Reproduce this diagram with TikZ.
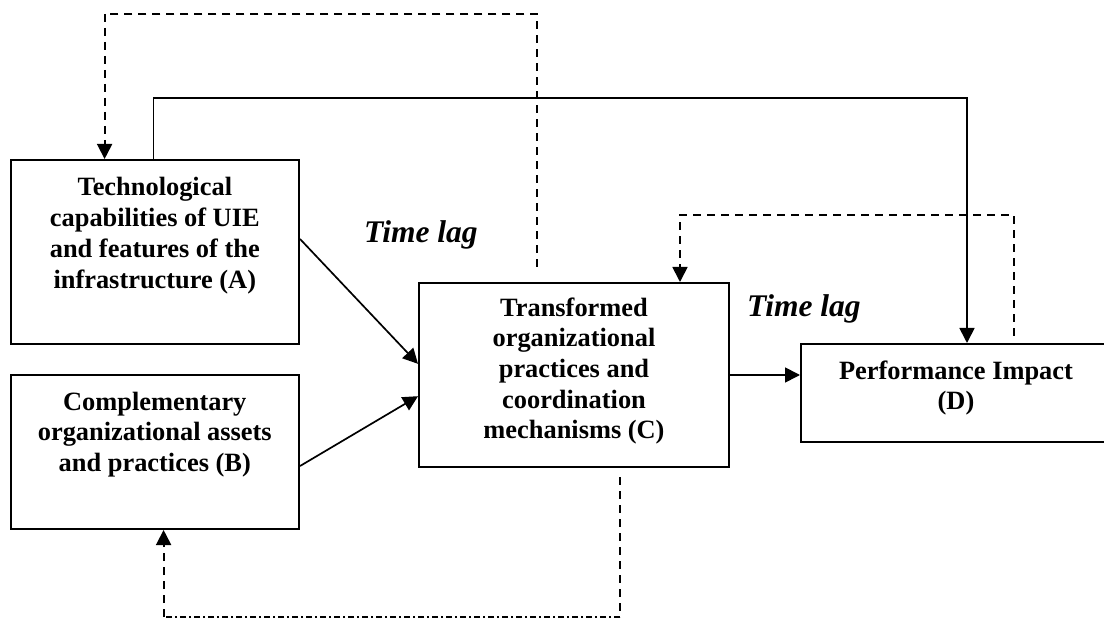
\documentclass[tikz,border=0pt]{standalone}
\usepackage{fontspec}
\setmainfont{Liberation Serif}
\usetikzlibrary{arrows.meta,calc}
\newcommand\bxt[4]{\parbox[c][#1][t]{#2}{\centering\rule{0pt}{#3}#4\par}}
\begin{document}
\begin{tikzpicture}[x=1pt,y=-1pt,
  box/.style={draw, line width=2pt, inner sep=0pt, anchor=north west,
    font=\fontsize{26.4pt}{30.7pt}\selectfont\bfseries},
  lag/.style={anchor=base west, inner sep=0pt,
    font=\fontsize{31.5pt}{36pt}\selectfont\bfseries\itshape},
  tip/.style={-{Triangle[length=15pt,width=15pt]}},
  conn/.style={line width=1.7pt, tip},
  dsh/.style={line width=1.8pt, dash pattern=on 8pt off 6pt},
  dshdot/.style={line width=1.8pt, dash pattern=on 6pt off 3pt on 2pt off 3pt}
]
\clip (0,0) rectangle (1104,620);

% boxes
\node[box] (A) at (9.6,159)
  {\bxt{184pt}{288.4pt}{36pt}{Technological\\capabilities of UIE\\and features of the\\infrastructure (A)}};
\node[box] (B) at (9.6,374)
  {\bxt{154pt}{288.4pt}{35pt}{Complementary\\organizational assets\\and practices (B)}};
\node[box] (C) at (418,282)
  {\bxt{184pt}{310pt}{33pt}{Transformed\\organizational\\practices and\\coordination\\mechanisms (C)}};
\node[box] (D) at (800,343)
  {\bxt{98pt}{310pt}{35pt}{Performance Impact\\(D)}};

% labels
\node[lag] (L1) at (364,243) {Time lag};
\node[lag] (L2) at (747,317) {Time lag};

% solid connectors
\draw[conn] ($(A.north east)!0.43!(A.south east)$) -- ($(C.north west)!0.44!(C.south west)$);
\draw[conn] ($(B.north east)!0.59!(B.south east)$) -- ($(C.north west)!0.614!(C.south west)$);
\draw[conn] (C.east) -- (C.east -| D.west);

\coordinate (s1) at (153.6,97.7);
\coordinate (s2) at (967,97.7);
\draw[conn] (A.north -| s1) -- (s1) -- (s2) -- (D.north -| s2);

% dashed feedback C -> A
\coordinate (f1) at (537,267);
\coordinate (f2) at (537,13.7);
\coordinate (f3) at (104.6,13.7);
\draw[dsh, tip] (f1) -- (f2) -- (f3) -- (A.north -| f3);

% dashed feedback D -> C
\coordinate (g1) at (1013.6,336);
\coordinate (g2) at (1013.6,215);
\coordinate (g3) at (680,215);
\draw[dsh, tip] (g1) -- (g2) -- (g3) -- (C.north -| g3);

% dashed feedback C -> B
\coordinate (h1) at (620,477);
\coordinate (h2) at (620,617);
\coordinate (h3) at (163.6,617);
\draw[dsh] (h1) -- (h2);
\draw[dshdot] (h2) -- (h3);
\draw[dsh, tip] (h3) -- (B.south -| h3);
\end{tikzpicture}
\end{document}
